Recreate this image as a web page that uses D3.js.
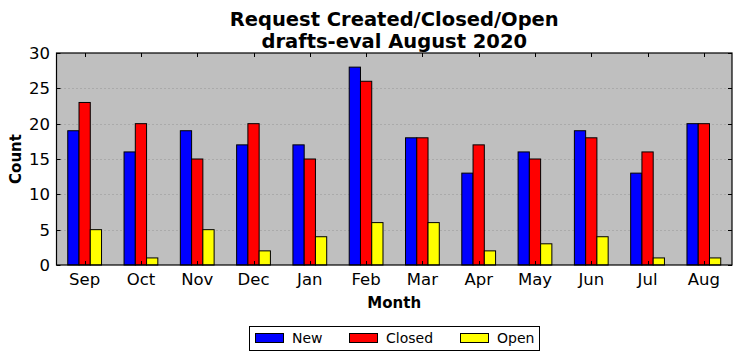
<!DOCTYPE html>
<html><head><meta charset="utf-8">
<script src="https://cdn.jsdelivr.net/npm/d3@7"></script>
<style>body{margin:0;background:#fff;}svg{display:block;font-family:"DejaVu Sans",sans-serif;}</style>
</head><body>
<svg id="c" width="742" height="361"></svg>
<script>
const months = ["Sep","Oct","Nov","Dec","Jan","Feb","Mar","Apr","May","Jun","Jul","Aug"];
const newVals = [19,16,19,17,17,28,18,13,16,19,13,20];
const closedVals = [23,20,15,20,15,26,18,17,15,18,16,20];
const openVals = [5,1,5,2,4,6,6,2,3,4,1,1];
const seriesNames = ["New","Closed","Open"];
const seriesColors = ["#0000ff","#ff0000","#ffff00"];
const yTicks = [0,5,10,15,20,25,30];
const titleLines = ["Request Created/Closed/Open","drafts-eval August 2020"];

const series = [newVals, closedVals, openVals];
const svg = d3.select("#c");
const L = 56.5, R = 732, T = 53, B = 265;
const x = d3.scaleLinear().domain([-0.5, months.length - 0.5]).range([L, R]);
const y = d3.scaleLinear().domain([0, 30]).range([B, T]);
const bw = 0.2;

svg.append("rect").attr("x", L).attr("y", T).attr("width", R - L).attr("height", B - T).attr("fill", "#bfbfbf");

// grid
svg.append("g").selectAll("line").data(yTicks.filter(d => d > 0 && d < 30)).join("line")
  .attr("x1", L).attr("x2", R).attr("y1", d => Math.round(y(d)) + 0.5).attr("y2", d => Math.round(y(d)) + 0.5)
  .attr("stroke", "#8a8a8a").attr("stroke-width", 0.8).attr("stroke-dasharray", "1,3");

// bars
series.forEach((vals, si) => {
  svg.append("g").selectAll("rect").data(vals).join("rect")
    .attr("x", (d, i) => x(i - 0.3 + si * bw))
    .attr("width", x(bw) - x(0))
    .attr("y", d => y(d))
    .attr("height", d => y(0) - y(d))
    .attr("fill", seriesColors[si]).attr("stroke", "#000").attr("stroke-width", 1);
});

// frame
svg.append("rect").attr("x", L).attr("y", T).attr("width", R - L).attr("height", B - T)
  .attr("fill", "none").attr("stroke", "#000").attr("stroke-width", 1.2);

// ticks inside
const tk = svg.append("g").attr("stroke", "#000").attr("stroke-width", 1);
months.forEach((m, i) => {
  const xx = Math.round(x(i)) + 0.5;
  tk.append("line").attr("x1", xx).attr("x2", xx).attr("y1", B).attr("y2", B - 4);
  tk.append("line").attr("x1", xx).attr("x2", xx).attr("y1", T).attr("y2", T + 4);
});
yTicks.forEach(v => {
  const yy = Math.round(y(v)) + 0.5;
  tk.append("line").attr("x1", L).attr("x2", L + 4).attr("y1", yy).attr("y2", yy);
  tk.append("line").attr("x1", R).attr("x2", R - 4).attr("y1", yy).attr("y2", yy);
});

// tick labels
svg.append("g").selectAll("text").data(months).join("text")
  .attr("x", (d, i) => x(i)).attr("y", 285).attr("text-anchor", "middle")
  .attr("font-size", 16.5).text(d => d);
svg.append("g").selectAll("text").data(yTicks).join("text")
  .attr("x", 50).attr("y", d => y(d) + 6).attr("text-anchor", "end")
  .attr("font-size", 16.5).text(d => d);

// axis titles
svg.append("text").attr("x", (L + R) / 2).attr("y", 308).attr("text-anchor", "middle")
  .attr("font-size", 15).attr("font-weight", "bold").text("Month");
svg.append("text").attr("transform", `translate(21,${(T + B) / 2}) rotate(-90)`).attr("text-anchor", "middle")
  .attr("font-size", 15).attr("font-weight", "bold").text("Count");

// title
titleLines.forEach((t, i) => {
  svg.append("text").attr("x", (L + R) / 2).attr("y", 26 + i * 21.5).attr("text-anchor", "middle")
    .attr("font-size", 19.5).attr("font-weight", "bold").text(t);
});

// legend
const lg = svg.append("g");
lg.append("rect").attr("x", 249.5).attr("y", 326.5).attr("width", 290).attr("height", 24)
  .attr("fill", "#fff").attr("stroke", "#000").attr("stroke-width", 1);
const lx = [255, 349, 460];
seriesNames.forEach((n, i) => {
  lg.append("rect").attr("x", lx[i] + 0.5).attr("y", 333.5).attr("width", 28).attr("height", 9)
    .attr("fill", seriesColors[i]).attr("stroke", "#000").attr("stroke-width", 1);
  lg.append("text").attr("x", lx[i] + 37).attr("y", 343).attr("font-size", 14).text(n);
});
</script>
</body></html>
